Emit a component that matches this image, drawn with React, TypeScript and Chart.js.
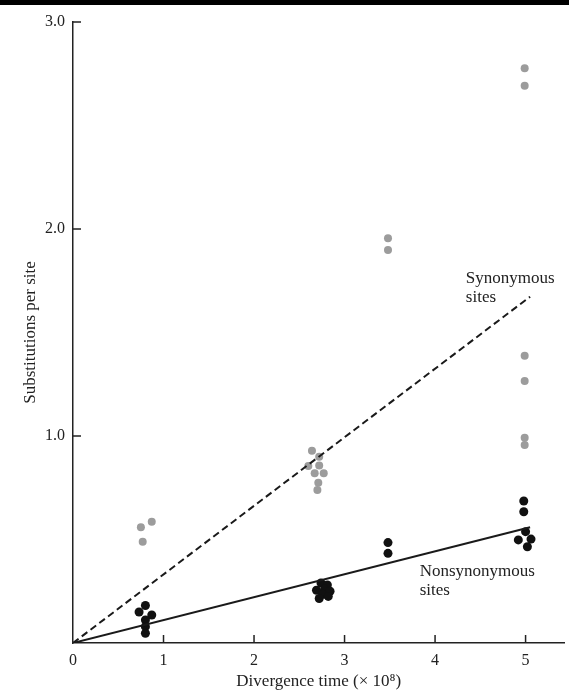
import React, { useEffect, useRef } from "react";
import { Chart, registerables } from "chart.js";

Chart.register(...registerables);

// Synonymous-site substitutions (grey points)
const synX = [0.75, 0.87, 0.77, 2.64, 2.72, 2.6, 2.72, 2.67, 2.77, 2.71, 2.7, 3.48, 3.48, 4.99, 4.99, 4.99, 4.99, 4.99, 4.99];
const synY = [0.559, 0.586, 0.489, 0.929, 0.9, 0.855, 0.858, 0.82, 0.82, 0.774, 0.739, 1.955, 1.899, 2.776, 2.692, 1.388, 1.266, 0.992, 0.957];

// Nonsynonymous-site substitutions (black points)
const nonX = [0.8, 0.73, 0.87, 0.8, 0.8, 0.8, 2.74, 2.81, 2.69, 2.78, 2.84, 2.76, 2.82, 2.72, 3.48, 3.48, 4.98, 4.98, 5.0, 4.92, 5.06, 5.02];
const nonY = [0.181, 0.15, 0.135, 0.111, 0.079, 0.047, 0.29, 0.28, 0.255, 0.26, 0.25, 0.235, 0.225, 0.215, 0.485, 0.433, 0.686, 0.634, 0.538, 0.498, 0.502, 0.465];

// Fitted lines (start and end points)
const synLineX = [0, 5.05];
const synLineY = [0, 1.673];
const nonLineX = [0, 5.05];
const nonLineY = [0, 0.559];

// Tick values
const xTicks = [0, 1, 2, 3, 4, 5];
const yTicks = [1, 2, 3];

// Line labels: text lines and anchor in data units
const labelTexts = [["Synonymous", "sites"], ["Nonsynonymous", "sites"]];
const labelAnchorX = [4.34, 3.83];
const labelAnchorY = [1.763, 0.344];

const FONT = "'Liberation Serif', 'Times New Roman', serif";

const pts = (xs: number[], ys: number[]) => xs.map((x, i) => ({ x, y: ys[i] }));

export default function App() {
  const ref = useRef<HTMLCanvasElement | null>(null);

  useEffect(() => {
    document.body.style.margin = "0";
    const canvas = ref.current;
    if (!canvas) return;

    const innerTicks = {
      id: "innerTicks",
      afterDraw(chart: any) {
        const { ctx, chartArea, scales } = chart;
        ctx.save();
        ctx.strokeStyle = "#222";
        ctx.lineWidth = 1.5;
        ctx.beginPath();
        xTicks.forEach((v) => {
          if (v === 0) return;
          const px = scales.x.getPixelForValue(v);
          ctx.moveTo(px, chartArea.bottom);
          ctx.lineTo(px, chartArea.bottom - 8);
        });
        yTicks.forEach((v) => {
          const py = scales.y.getPixelForValue(v);
          ctx.moveTo(chartArea.left, py);
          ctx.lineTo(chartArea.left + 8, py);
        });
        ctx.stroke();

        ctx.fillStyle = "#222";
        ctx.font = `17px ${FONT}`;
        ctx.textAlign = "left";
        ctx.textBaseline = "middle";
        labelTexts.forEach((lines, i) => {
          const px = scales.x.getPixelForValue(labelAnchorX[i]);
          const py = scales.y.getPixelForValue(labelAnchorY[i]);
          lines.forEach((t, j) => ctx.fillText(t, px, py + j * 19));
        });
        ctx.restore();
      },
    };

    const chart = new Chart(canvas, {
      type: "scatter",
      data: {
        datasets: [
          {
            type: "line",
            data: pts(synLineX, synLineY),
            borderColor: "#1a1a1a",
            borderWidth: 2,
            borderDash: [7, 4],
            pointRadius: 0,
            fill: false,
          },
          {
            type: "line",
            data: pts(nonLineX, nonLineY),
            borderColor: "#1a1a1a",
            borderWidth: 2,
            pointRadius: 0,
            fill: false,
          },
          {
            data: pts(synX, synY),
            backgroundColor: "#9c9c9c",
            borderWidth: 0,
            pointRadius: 4,
          },
          {
            data: pts(nonX, nonY),
            backgroundColor: "#111",
            borderWidth: 0,
            pointRadius: 4.5,
          },
        ],
      } as any,
      options: {
        animation: false,
        responsive: false,
        events: [],
        layout: { padding: { top: 22, right: 2, left: 0, bottom: 0 } },
        plugins: { legend: { display: false }, tooltip: { enabled: false } },
        scales: {
          x: {
            type: "linear",
            min: 0,
            max: 5.43,
            afterFit: (s: any) => {
              s.height = 49;
            },
            afterBuildTicks: (s: any) => {
              s.ticks = xTicks.map((v) => ({ value: v }));
            },
            grid: { display: false, drawTicks: false },
            border: { display: true, color: "#222", width: 1.5 },
            ticks: {
              padding: 8,
              color: "#222",
              font: { family: FONT, size: 16 },
              callback: (v: any) => String(v),
            },
            title: {
              display: true,
              text: "Divergence time (× 10⁸)",
              color: "#222",
              font: { family: FONT, size: 17 },
              padding: { top: 0, bottom: 0 },
            },
          },
          y: {
            type: "linear",
            min: 0,
            max: 3,
            afterFit: (s: any) => {
              s.width = 73;
            },
            afterBuildTicks: (s: any) => {
              s.ticks = yTicks.map((v) => ({ value: v }));
            },
            grid: { display: false, drawTicks: false },
            border: { display: true, color: "#222", width: 1.5 },
            ticks: {
              padding: 8,
              color: "#222",
              font: { family: FONT, size: 16 },
              callback: (v: any) => Number(v).toFixed(1),
            },
            title: {
              display: true,
              text: "Substitutions per site",
              color: "#222",
              font: { family: FONT, size: 17 },
              padding: { top: 20, bottom: 0 },
            },
          },
        },
      } as any,
      plugins: [innerTicks],
    });

    return () => chart.destroy();
  }, []);

  return (
    <div style={{ position: "relative", width: 569, height: 692, background: "#fff" }}>
      <div style={{ position: "absolute", left: 0, top: 0, width: 569, height: 5, background: "#000" }} />
      <canvas ref={ref} width={569} height={692} style={{ display: "block" }} />
    </div>
  );
}
